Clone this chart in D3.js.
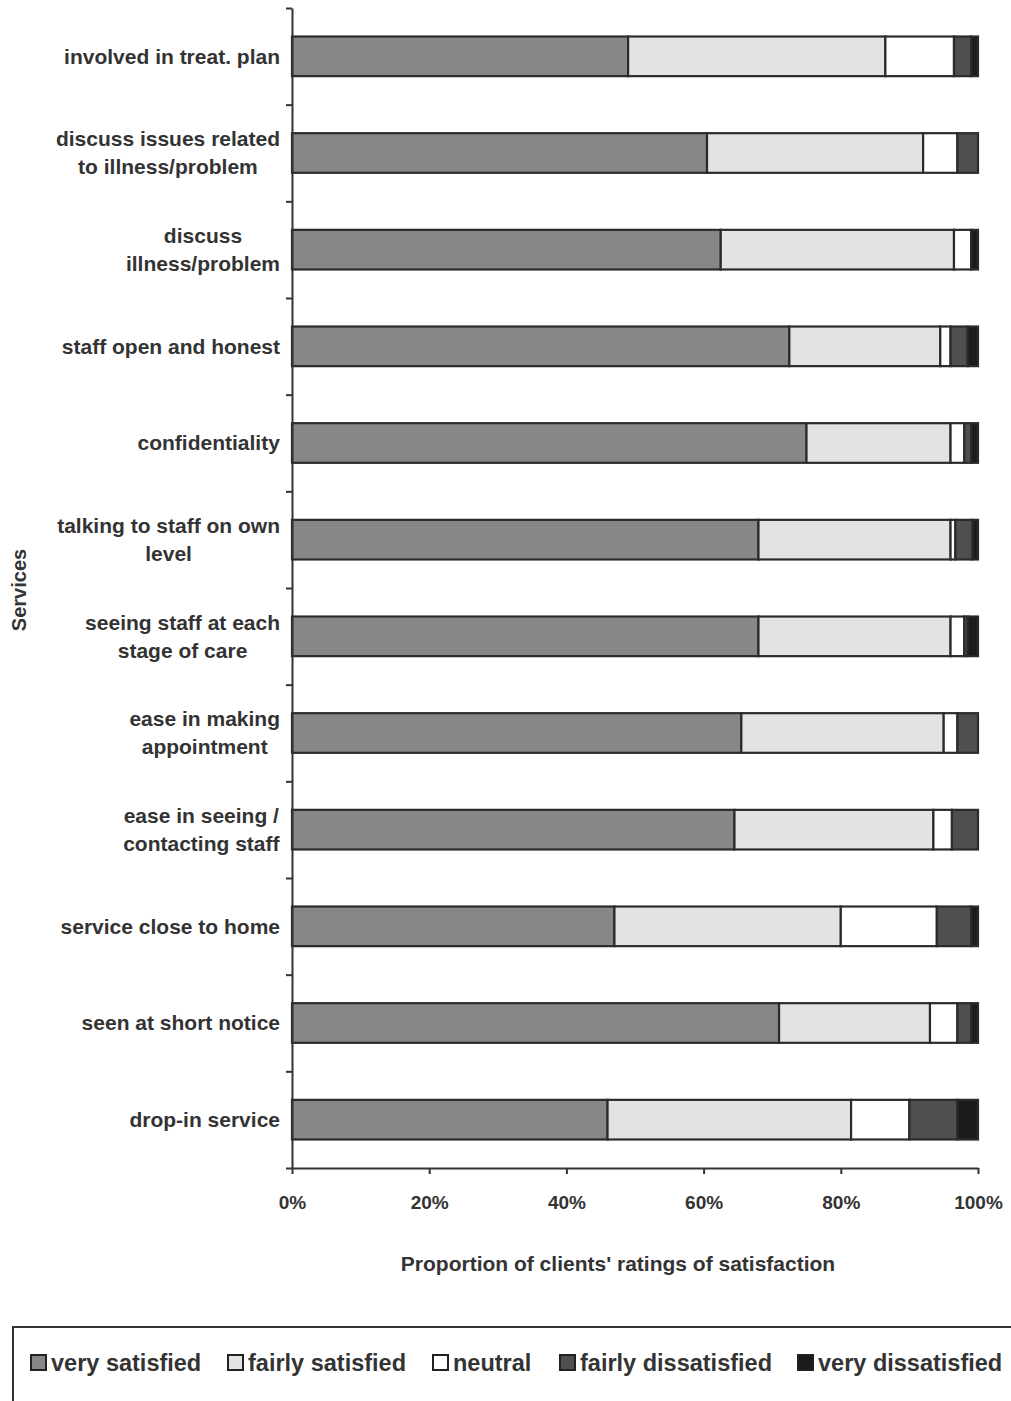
<!DOCTYPE html>
<html>
<head>
<meta charset="utf-8">
<script src="https://cdn.jsdelivr.net/npm/d3@7"></script>
<style>
  html, body { margin: 0; padding: 0; background: #fff; }
  svg { display: block; }
  text { font-family: "Liberation Sans", Arial, sans-serif; font-weight: bold; fill: #333; }
</style>
</head>
<body>
<svg id="chart" width="1011" height="1401"></svg>
<script>
// Services rated (top to bottom); "\n" marks a line break in the label
const services = [
  "involved in treat. plan",
  "discuss issues related\nto illness/problem",
  "discuss\nillness/problem",
  "staff open and honest",
  "confidentiality",
  "talking to staff on own\nlevel",
  "seeing staff at each\nstage of care",
  "ease in making\nappointment",
  "ease in seeing /\ncontacting staff",
  "service close to home",
  "seen at short notice",
  "drop-in service"
];

// Rating categories, in stacking order
const ratings = ["very satisfied", "fairly satisfied", "neutral", "fairly dissatisfied", "very dissatisfied"];

// Percentage of clients giving each rating, per service
const verySatisfied      = [49.0, 60.5, 62.5, 72.5, 75.0, 68.0, 68.0, 65.5, 64.5, 47.0, 71.0, 46.0];
const fairlySatisfied    = [37.5, 31.5, 34.0, 22.0, 21.0, 28.0, 28.0, 29.5, 29.0, 33.0, 22.0, 35.5];
const neutral            = [10.0,  5.0,  2.5,  1.5,  2.0,  0.7,  2.0,  2.0,  2.7, 14.0,  4.0,  8.5];
const fairlyDissatisfied = [ 2.5,  3.0,  0.0,  2.5,  1.0,  2.5,  0.5,  3.0,  3.8,  5.0,  2.0,  7.0];
const veryDissatisfied   = [ 1.0,  0.0,  1.0,  1.5,  1.0,  0.8,  1.5,  0.0,  0.0,  1.0,  1.0,  3.0];

const xTicks = [0, 20, 40, 60, 80, 100];
const xTitle = "Proportion of clients' ratings of satisfaction";
const yTitle = "Services";

const seriesValues = [verySatisfied, fairlySatisfied, neutral, fairlyDissatisfied, veryDissatisfied];
const fills = ["#878787", "#e3e3e3", "#ffffff", "#4f4f4f", "#1b1b1b"];

const rows = services.map((s, i) => {
  const r = { service: s };
  ratings.forEach((k, j) => r[k] = seriesValues[j][i]);
  return r;
});

const svg = d3.select("#chart");
const plot = { left: 292, right: 978, top: 8, bottom: 1168 };

const x = d3.scaleLinear().domain([0, 100]).range([plot.left, plot.right]);
const y = d3.scaleBand().domain(services).range([plot.top, plot.bottom])
  .paddingInner(0.59).paddingOuter(0.295);
const color = d3.scaleOrdinal().domain(ratings).range(fills);

const stack = d3.stack().keys(ratings);
const layers = stack(rows);

// Stacked bars
svg.append("g")
  .selectAll("g")
  .data(layers)
  .join("g")
    .attr("fill", d => color(d.key))
  .selectAll("rect")
  .data(d => d.filter(p => p[1] - p[0] > 0))
  .join("rect")
    .attr("x", d => x(d[0]))
    .attr("y", d => y(d.data.service))
    .attr("width", d => x(d[1]) - x(d[0]))
    .attr("height", y.bandwidth())
    .attr("stroke", "#2b2b2b")
    .attr("stroke-width", 2.2);

// Vertical category axis with ticks at band boundaries
const yEdges = d3.scaleLinear().domain([0, services.length]).range([plot.top, plot.bottom]);
const yAxis = svg.append("g")
  .attr("transform", `translate(${plot.left},0)`)
  .call(d3.axisLeft(yEdges).tickValues(d3.range(services.length + 1)).tickFormat("").tickSize(6).tickSizeOuter(0));
yAxis.select(".domain").attr("stroke", "#333").attr("stroke-width", 2);
yAxis.selectAll(".tick line").attr("stroke", "#333").attr("stroke-width", 2);

// Horizontal percentage axis
const xAxis = svg.append("g")
  .attr("transform", `translate(0,${plot.bottom})`)
  .call(d3.axisBottom(x).tickValues(xTicks).tickFormat(d => d + "%").tickSize(6).tickSizeOuter(0).tickPadding(22));
xAxis.select(".domain").attr("stroke", "#333").attr("stroke-width", 2);
xAxis.selectAll(".tick line").attr("stroke", "#333").attr("stroke-width", 2);
xAxis.selectAll(".tick text")
  .style("font-family", "'Liberation Sans', Arial, sans-serif")
  .style("font-weight", "bold")
  .style("font-size", "19px")
  .attr("fill", "#333");

// Category labels: lines centred on each other, block right-aligned beside the axis
const labelRight = 280;
const lineH = 28;
services.forEach(s => {
  const lines = s.split("\n");
  const t = svg.append("text")
    .attr("text-anchor", "middle")
    .style("font-size", "21px");
  lines.forEach((ln, i) => {
    t.append("tspan")
      .attr("x", 0)
      .attr("y", y(s) + y.bandwidth() / 2 + (i - (lines.length - 1) / 2) * lineH)
      .attr("dy", "0.35em")
      .text(ln);
  });
  const w = t.node().getBBox().width;
  t.selectAll("tspan").attr("x", labelRight - w / 2);
});

// Axis titles
svg.append("text")
  .attr("x", 618).attr("y", 1271)
  .attr("text-anchor", "middle")
  .style("font-size", "21px")
  .text(xTitle);

svg.append("text")
  .attr("transform", "translate(26,590) rotate(-90)")
  .attr("text-anchor", "middle")
  .style("font-size", "20px")
  .text(yTitle);

// Legend
const legend = svg.append("g");
legend.append("rect")
  .attr("x", 13).attr("y", 1327)
  .attr("width", 1020).attr("height", 100)
  .attr("fill", "none").attr("stroke", "#333").attr("stroke-width", 2);

const legendX = [31, 228, 433, 560, 798];
const ly = 1363;
ratings.forEach((k, i) => {
  const lx = legendX[i];
  legend.append("rect")
    .attr("x", lx).attr("y", ly - 8)
    .attr("width", 15).attr("height", 15)
    .attr("fill", color(k)).attr("stroke", "#222").attr("stroke-width", 2);
  legend.append("text")
    .attr("x", lx + 20).attr("y", ly)
    .attr("dy", "0.35em")
    .style("font-size", "23.5px")
    .text(k);
});
</script>
</body>
</html>
